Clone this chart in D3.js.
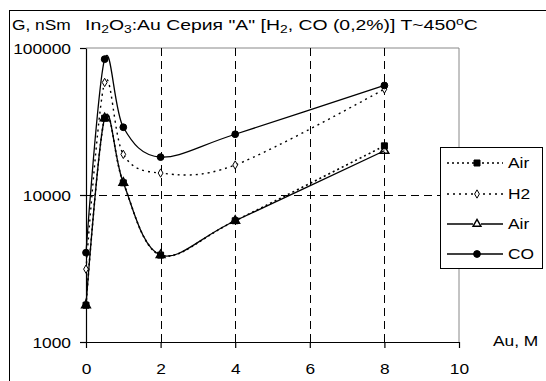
<!DOCTYPE html>
<html>
<head>
<meta charset="utf-8">
<script src="https://cdn.jsdelivr.net/npm/d3@7"></script>
<style>
  body { margin: 0; background: white; }
  svg text { font-family: "Liberation Sans", Arial, sans-serif; font-size: 14px; fill: black; }
</style>
</head>
<body>
<svg id="chart" width="546" height="381"></svg>
<script>
// values
const auValues = [0, 0.5, 1, 2, 4, 8];
const airSquare = [1780, 33300, 12100, 3900, 6680, 21600];
const h2Values = [3130, 58300, 18900, 14100, 16000, 52500];
const airTriangle = [1780, 33300, 12100, 3900, 6680, 20000];
const coValues = [4050, 84000, 28900, 18100, 25900, 55600];
const xTicks = [0, 2, 4, 6, 8, 10];
const yTicks = [1000, 10000, 100000];
const legendLabels = ["Air", "H2", "Air", "CO"];

const svg = d3.select("#chart");
const stretch = 1.24; // text in the picture is wider than plain Arial

svg.append("rect").attr("width", 546).attr("height", 381).attr("fill", "white");
// outer chart frame
svg.append("rect")
    .attr("x", 9.5).attr("y", 10.5)
    .attr("width", 560).attr("height", 400)
    .attr("fill", "none").attr("stroke", "black").attr("stroke-width", 1);

const x = d3.scaleLinear().domain([0, 10]).range([86, 459]);
const y = d3.scaleLog().domain([1000, 100000]).range([342, 48]);

// plot border (top/right) grey
svg.append("path")
    .attr("d", `M${x(0)},${y(100000)}H${x(10)}V${y(1000)}`)
    .attr("fill", "none").attr("stroke", "#888").attr("stroke-width", 1);

// grid
const grid = svg.append("g").attr("stroke", "black").attr("stroke-width", 1).attr("stroke-dasharray", "8,5");
grid.selectAll("line.v")
    .data([2, 4, 6, 8])
    .enter().append("line")
    .attr("x1", d => Math.round(x(d)) + 0.5).attr("x2", d => Math.round(x(d)) + 0.5)
    .attr("y1", y(100000)).attr("y2", y(1000));
grid.append("line")
    .attr("x1", x(0)).attr("x2", x(10))
    .attr("y1", Math.round(y(10000)) + 0.5).attr("y2", Math.round(y(10000)) + 0.5);

// axes
const xAxis = svg.append("g")
    .attr("transform", `translate(0,${y(1000)})`)
    .call(d3.axisBottom(x).tickValues(xTicks).tickSize(6).tickSizeOuter(0).tickPadding(4));
xAxis.selectAll("text")
    .attr("y", 32).attr("dy", null)
    .attr("transform", `scale(${stretch},1)`);

const yAxis = svg.append("g")
    .attr("transform", `translate(${x(0)},0)`)
    .call(d3.axisLeft(y).tickValues(yTicks).tickFormat(d3.format("d")).tickSize(6).tickSizeOuter(0));
yAxis.selectAll("text")
    .attr("x", -15 / stretch).attr("dy", 5)
    .attr("transform", `scale(${stretch},1)`);
svg.selectAll(".domain, .tick line").attr("stroke", "black").attr("stroke-width", 1.2);
svg.selectAll(".tick text").style("font-size", "14px").style("font-family", '"Liberation Sans", Arial, sans-serif');

// labels
svg.append("text").attr("transform", `translate(12,30) scale(${stretch},1)`).text("G, nSm");
svg.append("text").attr("transform", `translate(493,346) scale(${stretch},1)`).text("Au, M");

const title = svg.append("text");
title.append("tspan").text("In");
title.append("tspan").attr("dy", 3).style("font-size", "10px").text("2");
title.append("tspan").attr("dy", -3).text("O");
title.append("tspan").attr("dy", 3).style("font-size", "10px").text("3");
title.append("tspan").attr("dy", -3).text(':Au Серия "A" [H');
title.append("tspan").attr("dy", 3).style("font-size", "10px").text("2");
title.append("tspan").attr("dy", -3).text(", CO (0,2%)] T~450");
title.append("tspan").attr("dy", -5).style("font-size", "10px").text("o");
title.append("tspan").attr("dy", 5).text("C");
// stretch the title so it spans the same width as in the picture
const titleWidth = title.node().getBBox().width;
title.attr("transform", `translate(85,30) scale(${393 / titleWidth},1)`);

// series
const series = [
    { values: airSquare, dash: "2,3", width: 1.6, marker: "square" },
    { values: h2Values, dash: "2,4", width: 1.4, marker: "diamond" },
    { values: airTriangle, dash: null, width: 1.3, marker: "triangle" },
    { values: coValues, dash: null, width: 1.3, marker: "circle" }
];

const line = d3.line()
    .x(d => x(d[0]))
    .y(d => y(d[1]))
    .curve(d3.curveCatmullRom.alpha(0));

const symbolFor = {
    square: { type: d3.symbolSquare, size: 36, fill: "black" },
    diamond: { type: d3.symbolDiamond, size: 20, fill: "white" },
    triangle: { type: d3.symbolTriangle, size: 34, fill: "none" },
    circle: { type: d3.symbolCircle, size: 36, fill: "black" }
};

function drawMarker(g, kind, cx, cy, sizeScale) {
    const s = symbolFor[kind];
    g.append("path")
        .attr("d", d3.symbol().type(s.type).size(s.size * (sizeScale || 1))())
        .attr("transform", `translate(${cx},${cy})`)
        .attr("fill", s.fill)
        .attr("stroke", "black")
        .attr("stroke-width", kind === "triangle" ? 1.4 : 1);
}

const plot = svg.append("g");
series.forEach(s => {
    const pts = auValues.map((a, i) => [a, s.values[i]]);
    plot.append("path")
        .attr("d", line(pts))
        .attr("fill", "none")
        .attr("stroke", "black")
        .attr("stroke-width", s.width)
        .attr("stroke-dasharray", s.dash);
});
series.forEach(s => {
    auValues.forEach((a, i) => drawMarker(plot, s.marker, x(a), y(s.values[i]), 1));
});

// legend
const legend = svg.append("g");
legend.append("rect")
    .attr("x", 440.5).attr("y", 147.5).attr("width", 102).attr("height", 121)
    .attr("fill", "white").attr("stroke", "black").attr("stroke-width", 1);
const legendY = [163, 194, 224, 254];
series.forEach((s, i) => {
    const cy = legendY[i];
    legend.append("line")
        .attr("x1", 447).attr("x2", 503).attr("y1", cy).attr("y2", cy)
        .attr("stroke", "black").attr("stroke-width", s.width)
        .attr("stroke-dasharray", s.dash);
    if (s.marker === "triangle") {
        legend.append("rect").attr("x", 473).attr("y", cy - 4).attr("width", 8).attr("height", 7).attr("fill", "white");
    }
    drawMarker(legend, s.marker, 477, cy, s.marker === "triangle" ? 0.8 : 1);
    legend.append("text")
        .attr("transform", `translate(508,${cy + 5}) scale(${stretch},1)`)
        .text(legendLabels[i]);
});
</script>
</body>
</html>
